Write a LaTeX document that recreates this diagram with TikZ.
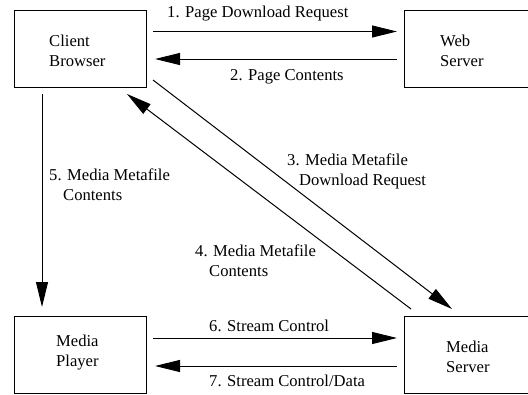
\documentclass[tikz,border=0pt]{standalone}
\usepackage{fontspec}
\setmainfont{Liberation Serif}
\usetikzlibrary{arrows.meta,calc}

\tikzset{
  box/.style={draw=black, line width=1pt, minimum width=132pt, minimum height=77pt,
    inner sep=0pt, outer sep=0pt},
  txt/.style={anchor=base west, align=left, inner sep=0pt,
    font=\fontsize{16.6pt}{20pt}\selectfont},
  arr/.style={line width=1pt, -{Triangle[length=25pt,width=12pt]}},
}

\begin{document}
\begin{tikzpicture}[x=1pt, y=-1pt]
  \useasboundingbox (0,0) rectangle (528,394);

  % boxes (the right-hand ones run past the page edge)
  \node[box] (cb) at (80,48.5) {};
  \node[box] (ws) at (470,48.5) {};
  \node[box] (mp) at (80,354.5) {};
  \node[box] (ms) at (470,354.5) {};

  % box captions (base anchor sits on the last line)
  \node[txt] (cbt) at (49,66) {Client\\Browser};
  \node[txt] (wst) at (440,66) {Web\\Server};
  \node[txt] (mpt) at (56,366) {Media\\Player};
  \node[txt] (mst) at (446,372) {Media\\Server};

  % page request / contents
  \draw[arr] ($(cb.east)+(7,-17)$) -- ($(ws.west)+(-7,-17)$);
  \draw[arr] ($(ws.west)+(-7,10.5)$) -- ($(cb.east)+(9,10.5)$);

  % metafile request / contents
  \draw[arr] ($(cb.south east)+(7,-7)$) -- ($(ms.north west)+(48,-7)$);
  \draw[arr] ($(ms.north west)+(7,-7)$) -- ($(cb.south east)+(-19,7)$);

  % metafile handed to the player
  \draw[arr] ($(cb.south west)+(28,7)$) -- ($(mp.north west)+(28,-9)$);

  % streaming
  \draw[arr] ($(mp.east)+(7,-16.5)$) -- ($(ms.west)+(-7,-16.5)$);
  \draw[arr] ($(ms.west)+(-7,11.5)$) -- ($(mp.east)+(9,11.5)$);

  % connector labels
  \node[txt] (l1) at (167,17.5) {1. Page Download Request};
  \node[txt] (l2) at (230,80) {2. Page Contents};
  \node[txt] (l3) at (287,185) {3. Media Metafile\\\hspace*{12pt}Download Request};
  \node[txt] (l4) at (195,276) {4. Media Metafile\\\hspace*{14pt}Contents};
  \node[txt] (l5) at (49,200) {5. Media Metafile\\\hspace*{14pt}Contents};
  \node[txt] (l6) at (209,331) {6. Stream Control};
  \node[txt] (l7) at (209,386) {7. Stream Control/Data};
\end{tikzpicture}
\end{document}
